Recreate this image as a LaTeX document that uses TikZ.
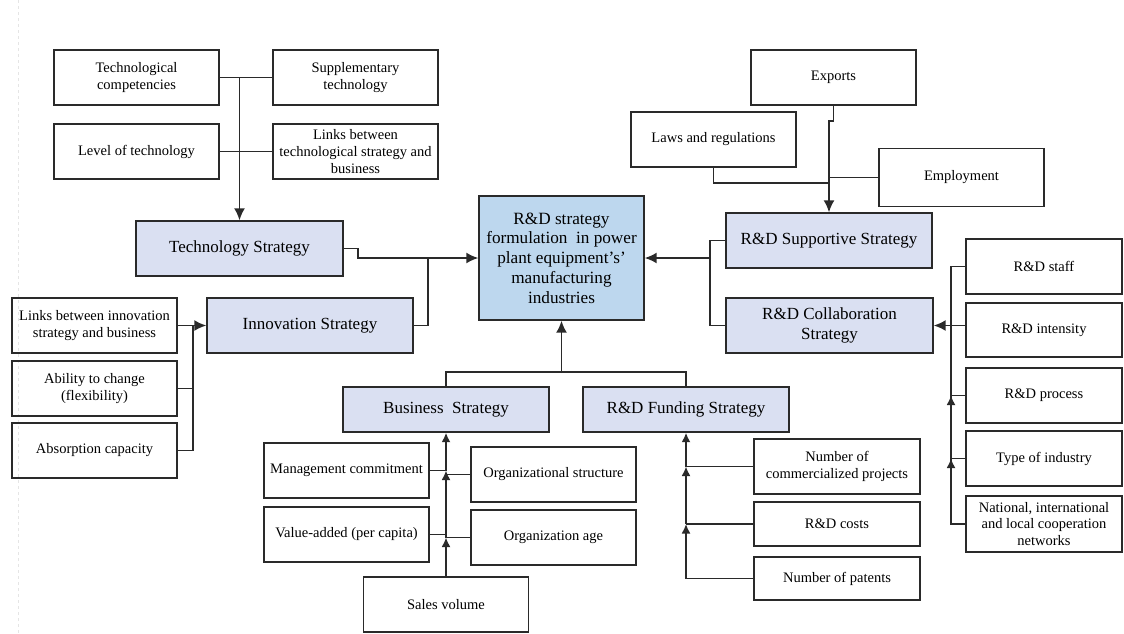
\documentclass[tikz,border=0pt]{standalone}
\usepackage{fontspec}
\setmainfont{Liberation Serif}
\usetikzlibrary{arrows.meta}
\definecolor{ln}{HTML}{2A2A2A}
\definecolor{stratfill}{HTML}{DAE0F2}
\definecolor{centfill}{HTML}{BDD7EE}
\begin{document}
\begin{tikzpicture}[x=1pt,y=-1pt,
 box/.style={draw=ln, line width=1.4pt, align=center, inner sep=0pt, font=\fontsize{14.5}{16.7}\selectfont, minimum width=165pt, minimum height=55pt},
 strat/.style={box, fill=stratfill, font=\fontsize{17}{19.7}\selectfont, minimum width=206pt},
 conn/.style={draw=ln, line width=1.7pt},
 arr/.style={conn, -{Latex[length=12pt,width=11pt]}},
 sarr/.style={conn, -{Latex[length=9.5pt,width=9pt]}},
]
\useasboundingbox (0,0) rectangle (1124,633);
\draw[gray!20, dashed, line width=0.6pt] (18,0) -- (18,633);

% technology cluster
\node[box] (tc) at (136.5,77.5) {Technological\\competencies};
\node[box] (st) at (355.5,77.5) {Supplementary\\technology};
\node[box] (lt) at (136.5,151.5) {Level of technology};
\node[box] (lb) at (355.5,151.5) {Links between\\technological strategy and\\business};
\node[strat, minimum width=207pt] (ts) at (239.5,248.5) {Technology Strategy};

% innovation cluster
\node[strat] (is) at (310,325.5) {Innovation Strategy};
\node[box] (li) at (94.5,325.5) {Links between innovation\\strategy and business};
\node[box] (ac) at (94.5,388.5) {Ability to change\\(flexibility)};
\node[box] (ab) at (94.5,450.5) {Absorption capacity};

% center
\node[box, fill=centfill, minimum height=124pt, font=\fontsize{17.2}{19.7}\selectfont] (c) at (561.5,258) {R\&D strategy\\formulation\ \ in power\\plant equipment’s’\\manufacturing\\industries};

% supportive cluster
\node[box] (ex) at (833.5,77.5) {Exports};
\node[box] (lr) at (713.5,139.5) {Laws and regulations};
\node[box, minimum height=58pt] (em) at (961.5,177.5) {Employment};
\node[strat] (ss) at (829,240.5) {R\&D Supportive Strategy};
\node[strat, minimum width=207pt] (cs) at (829.5,325.5) {R\&D Collaboration\\Strategy};

% right column
\node[box, minimum width=156pt] (rs) at (1044,266.5) {R\&D staff};
\node[box, minimum width=156pt, minimum height=54pt] (ri) at (1044,330) {R\&D intensity};
\node[box, minimum width=156pt] (rp) at (1044,395.5) {R\&D process};
\node[box, minimum width=156pt] (ti) at (1044,458.5) {Type of industry};
\node[box, minimum width=156pt, minimum height=56pt] (ni) at (1044,524) {National, international\\and local cooperation\\networks};

% business cluster
\node[strat, minimum height=45pt] (bs) at (446,409.5) {Business\ \ Strategy};
\node[box] (mc) at (346.5,470.5) {Management commitment};
\node[box] (va) at (346.5,534.5) {Value-added (per capita)};
\node[box] (os) at (553.5,474.5) {Organizational structure};
\node[box] (oa) at (553.5,537.5) {Organization age};
\node[box] (sv) at (446,604.5) {Sales volume};

% funding cluster
\node[strat, minimum height=45pt] (fs) at (686,409.5) {R\&D Funding Strategy};
\node[box, minimum width=166pt] (np) at (837,466.5) {Number of\\commercialized projects};
\node[box, minimum width=166pt, minimum height=44pt] (rc) at (837,524) {R\&D costs};
\node[box, minimum width=166pt, minimum height=43pt] (pt) at (837,578.5) {Number of patents};

% ---- connectors ----
% technology
\coordinate (tt) at (ts.north |- tc.east);
\draw[conn] (tc.east) -- (st.west);
\draw[conn] (lt.east) -- (lb.west);
\draw[arr] (tt) -- (ts.north);
\draw[arr] (ts.east) -- ++(14,0) |- (c.west);
\coordinate (j1) at (428,258);
\draw[conn] (is.east) -| (j1);

% innovation inputs
\coordinate (it) at (193,325.5);
\draw[arr] (li.east) -- (is.west);
\draw[conn] (ac.east) -| (it);
\draw[conn] (ab.east) -| (it);

% supportive inputs
\coordinate (lrj) at (829,183);
\draw[arr] (ex.south) -- ++(0,15) -| (ss.north);
\draw[conn] (lr.south) |- (lrj);
\draw[conn] (em.west) -- (ss.north |- em.west);

% supportive/collab to center
\coordinate (rj) at (711,258);
\draw[conn] (ss.west) -- ++(-15,0) |- (cs.west);
\draw[arr] (rj) -- (c.east);

% right column
\coordinate (rt) at (951,266.5);
\draw[conn] (rs.west) -| (rt |- ni.west) -- (ni.west);
\draw[sarr] (rt |- ni.west) -- (rt |- ti.west);
\draw[sarr] (rt |- ti.west) -- (rt |- rp.west);
\draw[conn] (rp.west) -- (rt |- rp.west);
\draw[conn] (ti.west) -- (rt |- ti.west);
\draw[arr] (ri.west |- cs.east) -- (cs.east);

% business
\draw[sarr] (sv.north) -- (bs.south |- oa.west);
\draw[sarr] (bs.south |- oa.west) -- (bs.south |- mc.east);
\draw[sarr] (bs.south |- mc.east) -- (bs.south);
\draw[conn] (mc.east) -- (bs.south |- mc.east);
\draw[conn] (os.west) -- (bs.south |- os.west);
\draw[conn] (va.east) -- (bs.south |- va.east);
\draw[conn] (oa.west) -- (bs.south |- oa.west);

% funding
\draw[sarr] (pt.west) -| (fs.south |- rc.west);
\draw[sarr] (fs.south |- rc.west) -- (fs.south |- np.west);
\draw[sarr] (fs.south |- np.west) -- (fs.south);
\draw[conn] (rc.west) -- (fs.south |- rc.west);
\draw[conn] (np.west) -- (fs.south |- np.west);

% bottom to center
\coordinate (bj) at (561.5,373);
\draw[conn] (bs.north) -- ++(0,-14) -| (fs.north);
\draw[arr] (bj) -- (c.south);
\end{tikzpicture}
\end{document}
